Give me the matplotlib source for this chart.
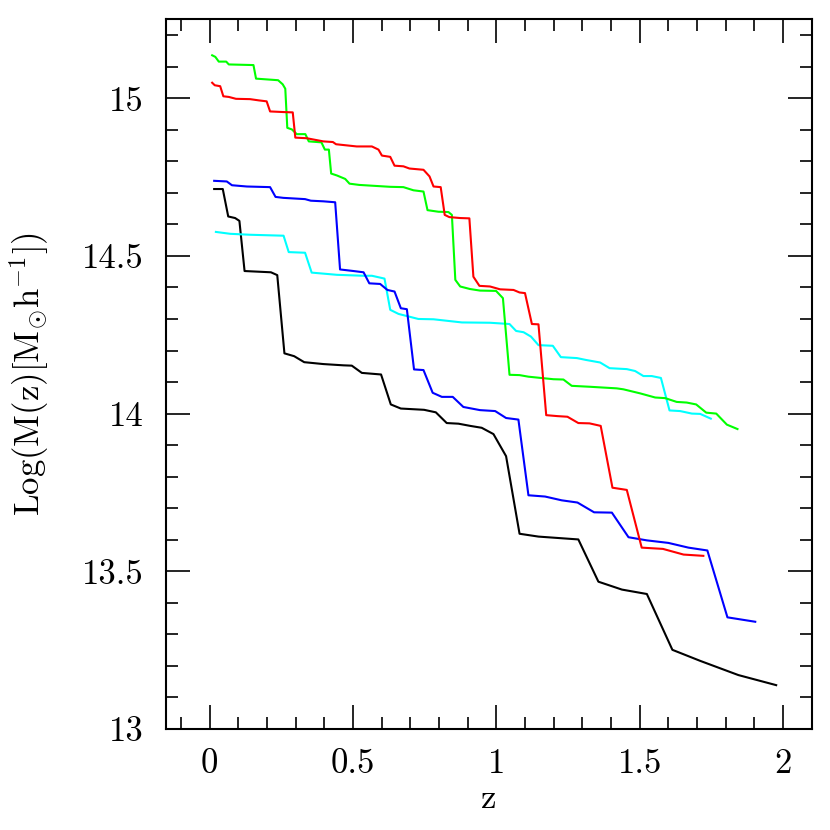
import matplotlib
matplotlib.use("Agg")
import matplotlib.pyplot as plt
from matplotlib.ticker import MultipleLocator

# redshift / log-mass pairs, one track per halo
z_green = [0.009, 0.020, 0.032, 0.058, 0.067, 0.153, 0.162, 0.239, 0.255, 0.264, 0.271, 0.287,
           0.304, 0.334, 0.346, 0.390, 0.402, 0.416, 0.424, 0.444, 0.473, 0.488, 0.522, 0.630,
           0.676, 0.711, 0.746, 0.760, 0.798, 0.833, 0.845, 0.857, 0.874, 0.908, 0.943, 0.999,
           1.023, 1.046, 1.081, 1.112, 1.199, 1.234, 1.263, 1.327, 1.420, 1.443, 1.502, 1.554,
           1.589, 1.629, 1.664, 1.697, 1.732, 1.767, 1.804, 1.841]
m_green = [15.136, 15.131, 15.116, 15.116, 15.107, 15.105, 15.062, 15.057, 15.044, 15.030, 14.906, 14.901,
           14.886, 14.886, 14.863, 14.860, 14.837, 14.837, 14.761, 14.755, 14.744, 14.729, 14.725, 14.719,
           14.718, 14.708, 14.704, 14.645, 14.640, 14.639, 14.630, 14.424, 14.403, 14.395, 14.390, 14.389,
           14.366, 14.123, 14.122, 14.117, 14.109, 14.108, 14.088, 14.085, 14.080, 14.077, 14.064, 14.051,
           14.049, 14.037, 14.035, 14.029, 14.003, 14.000, 13.965, 13.951]

z_red = [0.009, 0.018, 0.037, 0.048, 0.067, 0.092, 0.141, 0.172, 0.199, 0.211, 0.258, 0.290,
         0.299, 0.339, 0.397, 0.430, 0.441, 0.513, 0.566, 0.589, 0.601, 0.630, 0.645, 0.676,
         0.697, 0.746, 0.767, 0.781, 0.806, 0.820, 0.836, 0.874, 0.906, 0.920, 0.941, 0.978,
         1.013, 1.060, 1.081, 1.100, 1.124, 1.147, 1.174, 1.213, 1.248, 1.286, 1.325, 1.364,
         1.405, 1.455, 1.507, 1.581, 1.653, 1.722]
m_red = [15.049, 15.041, 15.038, 15.006, 15.004, 14.998, 14.997, 14.993, 14.990, 14.958, 14.956, 14.955,
         14.875, 14.873, 14.863, 14.861, 14.854, 14.847, 14.847, 14.837, 14.818, 14.814, 14.786, 14.784,
         14.777, 14.773, 14.752, 14.720, 14.718, 14.630, 14.623, 14.620, 14.619, 14.434, 14.405, 14.403,
         14.394, 14.392, 14.384, 14.382, 14.284, 14.283, 13.995, 13.992, 13.990, 13.970, 13.969, 13.961,
         13.765, 13.758, 13.575, 13.571, 13.553, 13.549]

z_blue = [0.016, 0.060, 0.078, 0.130, 0.211, 0.230, 0.257, 0.333, 0.353, 0.397, 0.438, 0.455,
          0.502, 0.537, 0.557, 0.595, 0.620, 0.645, 0.667, 0.688, 0.713, 0.746, 0.778, 0.810,
          0.848, 0.885, 0.943, 0.996, 1.034, 1.077, 1.112, 1.170, 1.228, 1.283, 1.341, 1.403,
          1.461, 1.525, 1.600, 1.670, 1.736, 1.806, 1.903]
m_blue = [14.738, 14.736, 14.724, 14.720, 14.718, 14.687, 14.684, 14.680, 14.675, 14.673, 14.670, 14.457,
          14.452, 14.448, 14.413, 14.411, 14.392, 14.387, 14.334, 14.331, 14.140, 14.138, 14.066, 14.053,
          14.053, 14.021, 14.011, 14.008, 13.986, 13.981, 13.741, 13.737, 13.725, 13.718, 13.687, 13.686,
          13.608, 13.598, 13.590, 13.575, 13.566, 13.354, 13.340]

z_cyan = [0.022, 0.072, 0.141, 0.258, 0.276, 0.333, 0.356, 0.444, 0.537, 0.566, 0.610, 0.630,
          0.659, 0.728, 0.781, 0.880, 0.978, 1.046, 1.069, 1.095, 1.121, 1.147, 1.197, 1.225,
          1.281, 1.313, 1.362, 1.395, 1.455, 1.484, 1.513, 1.542, 1.574, 1.604, 1.641, 1.682,
          1.711, 1.748]
m_cyan = [14.576, 14.570, 14.567, 14.564, 14.512, 14.510, 14.447, 14.440, 14.437, 14.437, 14.428, 14.329,
          14.316, 14.300, 14.299, 14.289, 14.288, 14.284, 14.262, 14.258, 14.244, 14.217, 14.215, 14.179,
          14.176, 14.170, 14.162, 14.144, 14.141, 14.135, 14.119, 14.119, 14.113, 14.010, 14.008, 14.000,
          13.999, 13.984]

z_black = [0.016, 0.046, 0.065, 0.089, 0.104, 0.122, 0.214, 0.236, 0.261, 0.295, 0.330, 0.397,
           0.467, 0.496, 0.531, 0.598, 0.632, 0.667, 0.748, 0.789, 0.827, 0.868, 0.909, 0.949,
           0.990, 1.034, 1.081, 1.147, 1.286, 1.356, 1.438, 1.525, 1.614, 1.711, 1.844, 1.976]
m_black = [14.712, 14.712, 14.625, 14.620, 14.611, 14.452, 14.448, 14.439, 14.191, 14.182, 14.163, 14.157,
           14.153, 14.152, 14.129, 14.124, 14.029, 14.016, 14.012, 14.004, 13.970, 13.968, 13.961, 13.955,
           13.935, 13.865, 13.619, 13.610, 13.601, 13.467, 13.442, 13.428, 13.251, 13.216, 13.171, 13.139]

plt.rcParams['font.family'] = ['cmr10', 'DejaVu Serif']
plt.rcParams['mathtext.fontset'] = 'cm'
plt.rcParams['axes.formatter.use_mathtext'] = True

fig = plt.figure(figsize=(8.3, 8.3), dpi=100)
ax = fig.add_axes([0.2, 0.1217, 0.778, 0.855])

lw = 1.5
ax.plot(z_black, m_black, color='black', lw=lw)
ax.plot(z_cyan, m_cyan, color='#00ffff', lw=lw)
ax.plot(z_blue, m_blue, color='#0000ff', lw=lw)
ax.plot(z_green, m_green, color='#00ff00', lw=lw)
ax.plot(z_red, m_red, color='#ff0000', lw=lw)

ax.set_xlim(-0.152, 2.1)
ax.set_ylim(13, 15.25)

ax.xaxis.set_major_locator(MultipleLocator(0.5))
ax.xaxis.set_minor_locator(MultipleLocator(0.1))
ax.yaxis.set_major_locator(MultipleLocator(0.5))
ax.yaxis.set_minor_locator(MultipleLocator(0.1))
ax.xaxis.set_major_formatter(plt.FuncFormatter(lambda v, p: '%g' % v))
ax.yaxis.set_major_formatter(plt.FuncFormatter(lambda v, p: '%g' % v))

ax.tick_params(which='both', direction='in', top=True, right=True, width=1.2, labelsize=25)
ax.tick_params(which='major', length=17, pad=14)
ax.tick_params(which='minor', length=8.5)
ax.tick_params(axis='y', which='major', pad=16)
for s in ax.spines.values():
    s.set_linewidth(1.5)

ax.set_xlabel('z', fontsize=25)
ax.set_ylabel(r'Log(M(z)[M$_{\odot}$h$^{-1}$])', fontsize=25)
ax.xaxis.label.set_va('center')
ax.yaxis.label.set_va('center')
ax.xaxis.set_label_coords(0.5, -0.099)
ax.yaxis.set_label_coords(-0.211, 0.5)

fig.savefig('out.png', dpi=100)
